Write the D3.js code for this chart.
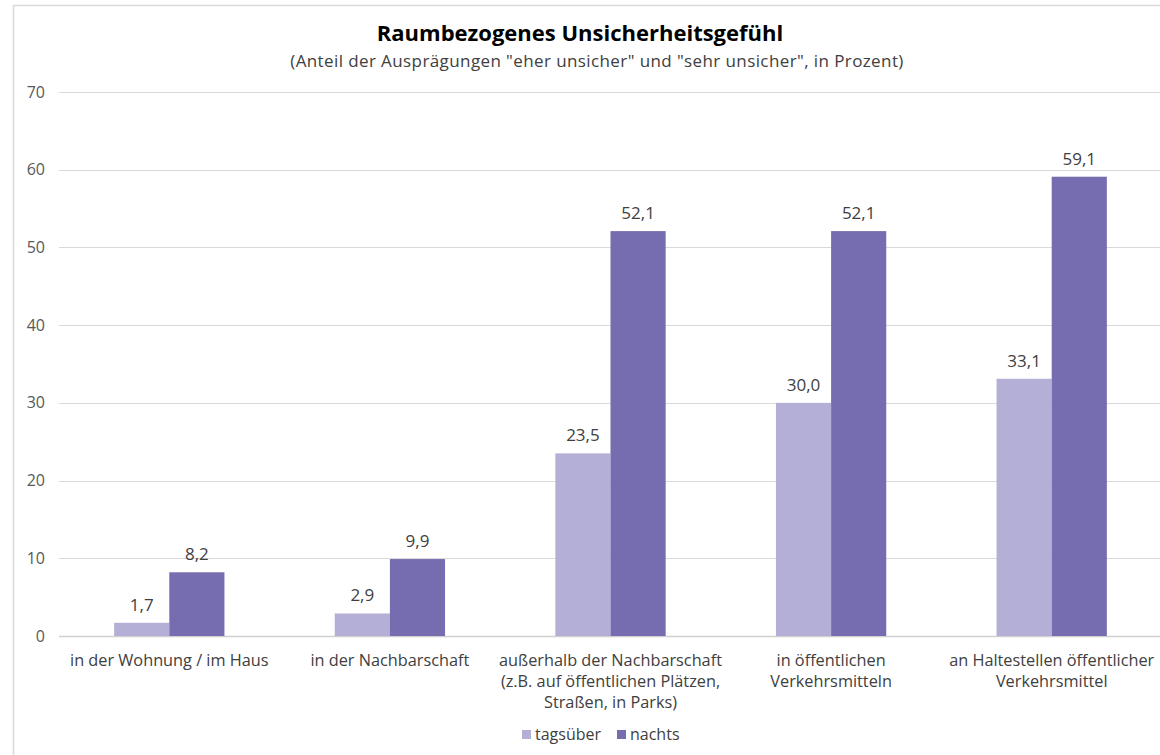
<!DOCTYPE html>
<html>
<head>
<meta charset="utf-8">
<script src="https://cdn.jsdelivr.net/npm/d3@7"></script>
<style>
  body { margin: 0; background: #fff; }
  svg { display: block; font-family: "Open Sans", "Noto Sans", sans-serif; }
</style>
</head>
<body>
<svg width="1160" height="755"></svg>
<script>
// chart data
var categories = [
  ["in der Wohnung / im Haus"],
  ["in der Nachbarschaft"],
  ["außerhalb der Nachbarschaft", "(z.B. auf öffentlichen Plätzen,", "Straßen, in Parks)"],
  ["in öffentlichen", "Verkehrsmitteln"],
  ["an Haltestellen öffentlicher", "Verkehrsmittel"]
];
var seriesNames = ["tagsüber", "nachts"];
var tagsueber = [1.7, 2.9, 23.5, 30.0, 33.1];
var nachts = [8.2, 9.9, 52.1, 52.1, 59.1];
var yTicks = [0, 10, 20, 30, 40, 50, 60, 70];
var colors = ["#b3afd6", "#766db0"];

var svg = d3.select("svg");
var margin = {top: 92, right: -2, bottom: 119, left: 59};
var width = 1160 - margin.left - margin.right;
var height = 755 - margin.top - margin.bottom;

// outer chart border (cropped at the right)
svg.append("path")
  .attr("d", "M13.5,755 V5.5 H1160")
  .attr("fill", "none")
  .attr("stroke", "#d9d9d9")
  .attr("stroke-width", 1.5);

// title
svg.append("text")
  .attr("x", 580).attr("y", 41)
  .attr("text-anchor", "middle")
  .style("font-size", "22px")
  .style("font-weight", "bold")
  .attr("fill", "#000")
  .text("Raumbezogenes Unsicherheitsgefühl");

svg.append("text")
  .attr("x", 597).attr("y", 67)
  .attr("text-anchor", "middle")
  .style("font-size", "17px")
  .style("letter-spacing", "0.4px")
  .attr("fill", "#404040")
  .text("(Anteil der Ausprägungen \"eher unsicher\" und \"sehr unsicher\", in Prozent)");

var g = svg.append("g")
  .attr("transform", "translate(" + margin.left + "," + margin.top + ")");

var idx = d3.range(categories.length);
var x0 = d3.scaleBand().domain(idx).range([0, width]).paddingInner(0.5).paddingOuter(0.25);
var x1 = d3.scaleBand().domain([0, 1]).range([0, x0.bandwidth()]);
var y = d3.scaleLinear().domain([0, 70]).range([height, 0]);

// gridlines
g.append("g")
  .selectAll("line")
  .data(yTicks)
  .enter().append("line")
  .attr("x1", 0).attr("x2", width + 10)
  .attr("y1", function(d) { return Math.round(y(d)) + 0.5; })
  .attr("y2", function(d) { return Math.round(y(d)) + 0.5; })
  .attr("stroke", function(d) { return d === 0 ? "#d0d0d0" : "#d9d9d9"; })
  .attr("stroke-width", function(d) { return d === 0 ? 1.5 : 1; });

// y axis labels
var yAxis = g.append("g")
  .call(d3.axisLeft(y).tickValues(yTicks).tickSize(0).tickPadding(14));
yAxis.select(".domain").remove();
yAxis.selectAll("text")
  .style("font-size", "16px")
  .style("font-family", "\"Open Sans\", sans-serif")
  .attr("fill", "#595959");

// bars
var groups = g.selectAll(".grp")
  .data(idx)
  .enter().append("g")
  .attr("class", "grp")
  .attr("transform", function(i) { return "translate(" + x0(i) + ",0)"; });

var cells = groups.selectAll(".bar")
  .data(function(i) { return [tagsueber[i], nachts[i]].map(function(v, s) { return {s: s, v: v}; }); })
  .enter();

cells.append("rect")
  .attr("class", "bar")
  .attr("x", function(d) { return x1(d.s); })
  .attr("y", function(d) { return y(d.v); })
  .attr("width", x1.bandwidth())
  .attr("height", function(d) { return height - y(d.v); })
  .attr("fill", function(d) { return colors[d.s]; });

cells.append("text")
  .attr("x", function(d) { return x1(d.s) + x1.bandwidth() / 2; })
  .attr("y", function(d) { return y(d.v) - 12; })
  .attr("text-anchor", "middle")
  .style("font-size", "17px")
  .attr("fill", "#404040")
  .text(function(d) { return d3.format(".1f")(d.v).replace(".", ","); });

// x labels
var xl = g.selectAll(".xl")
  .data(idx)
  .enter().append("text")
  .attr("class", "xl")
  .attr("x", function(i) { return x0(i) + x0.bandwidth() / 2; })
  .attr("y", height + 30)
  .attr("text-anchor", "middle")
  .style("font-size", "16.3px")
  .attr("fill", "#404040");
xl.selectAll("tspan")
  .data(function(i) { return categories[i]; })
  .enter().append("tspan")
  .attr("x", function() { return d3.select(this.parentNode).attr("x"); })
  .attr("dy", function(d, k) { return k === 0 ? 0 : 21; })
  .text(function(d) { return d; });

// legend
var legendX = [522, 617];
var leg = svg.append("g").selectAll("g")
  .data(seriesNames)
  .enter().append("g")
  .attr("transform", function(d, i) { return "translate(" + legendX[i] + ",730)"; });
leg.append("rect")
  .attr("width", 9).attr("height", 9)
  .attr("fill", function(d, i) { return colors[i]; });
leg.append("text")
  .attr("x", 13).attr("y", 10)
  .style("font-size", "16px")
  .attr("fill", "#404040")
  .text(function(d) { return d; });
</script>
</body>
</html>
